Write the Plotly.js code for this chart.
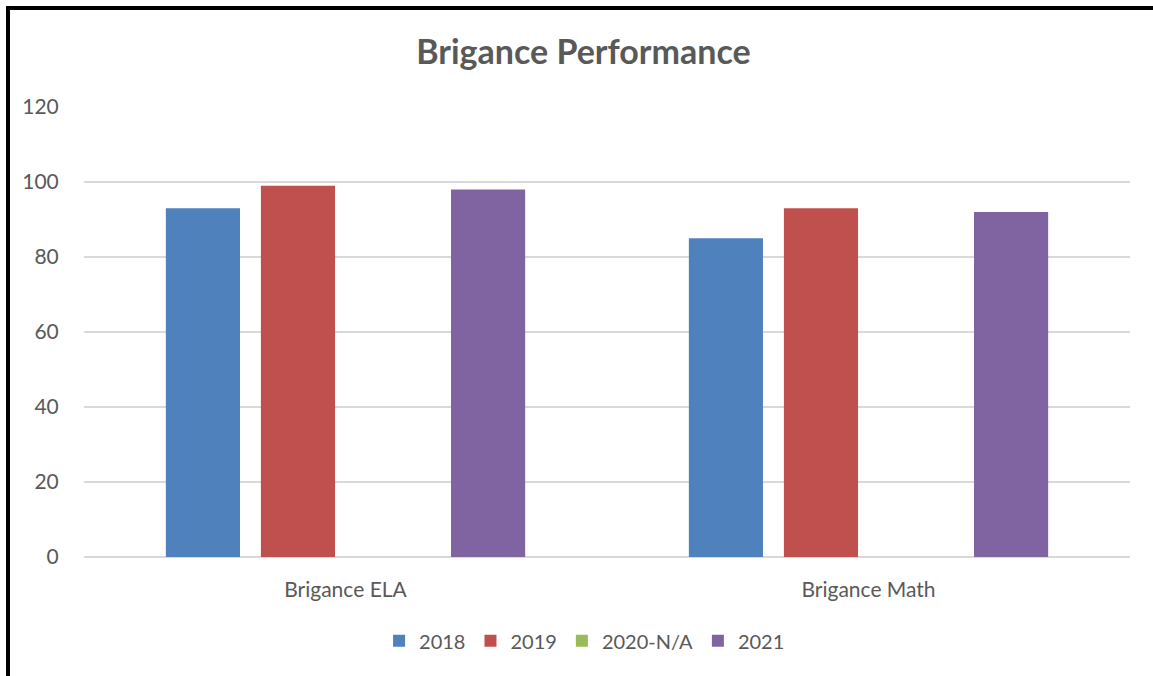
<!DOCTYPE html>
<html>
<head>
<meta charset="utf-8">
<script src="https://cdn.plot.ly/plotly-3.0.1.min.js"></script>
<style>
  html, body { margin: 0; padding: 0; background: #fff; overflow: hidden; }
  #chart { width: 1153px; height: 676px; position: absolute; left: 0; top: 0; }
  #frame { position: absolute; left: 6px; top: 6px; width: 1200px; height: 720px;
           border-left: 4px solid #000; border-top: 4px solid #000; pointer-events: none; }
</style>
</head>
<body>
<div id="chart"></div>
<div id="frame"></div>
<script>
const categories = ["Brigance ELA", "Brigance Math"];
const seriesNames = ["2018", "2019", "2020-N/A", "2021"];
const values2018 = [93, 85];
const values2019 = [99, 93];
const values2020 = [null, null];
const values2021 = [98, 92];
const yTicks = [0, 20, 40, 60, 80, 100, 120];

const colors = ["#4f81bd", "#c0504d", "#9bbb59", "#8064a2"];
const allValues = [values2018, values2019, values2020, values2021];

const traces = allValues.map((vals, i) => ({
  type: "bar",
  name: seriesNames[i],
  x: categories,
  y: vals,
  marker: { color: colors[i], line: { width: 0 } },
  hoverinfo: "x+y+name"
}));

const layout = {
  width: 1153,
  height: 676,
  paper_bgcolor: "#ffffff",
  plot_bgcolor: "#ffffff",
  margin: { l: 84, r: 23, t: 107, b: 119 },
  barmode: "group",
  bargap: 0.273,
  bargroupgap: 0.22,
  font: { family: "Lato, 'Open Sans', sans-serif", color: "#595959", size: 21 },
  title: {
    text: "<b>Brigance Performance</b>",
    font: { family: "Lato, 'Open Sans', sans-serif", size: 34, color: "#595959" },
    x: 0.506, xref: "container", xanchor: "center",
    y: 0.923, yref: "container", yanchor: "middle"
  },
  xaxis: {
    type: "category",
    showgrid: false,
    showline: false,
    zeroline: false,
    ticks: "outside",
    ticklen: 14,
    tickcolor: "rgba(0,0,0,0)",
    tickfont: { size: 21, color: "#595959" }
  },
  yaxis: {
    range: [0, 120],
    tickvals: yTicks,
    ticktext: yTicks.map(String),
    showgrid: true,
    gridcolor: "#d9d9d9",
    gridwidth: 1.5,
    zeroline: true,
    zerolinecolor: "#d9d9d9",
    zerolinewidth: 1.5,
    showline: false,
    ticks: "outside",
    ticklen: 20,
    tickcolor: "rgba(0,0,0,0)",
    tickfont: { size: 21, color: "#595959" }
  },
  legend: {
    orientation: "h",
    x: 0.507, xanchor: "center", xref: "container",
    y: 0.052, yanchor: "middle", yref: "container",
    font: { size: 20, color: "#595959" },
    itemwidth: 30,
    tracegroupgap: 0
  },
  showlegend: true
};

Plotly.newPlot("chart", traces, layout, { displayModeBar: false, staticPlot: true });
</script>
</body>
</html>
